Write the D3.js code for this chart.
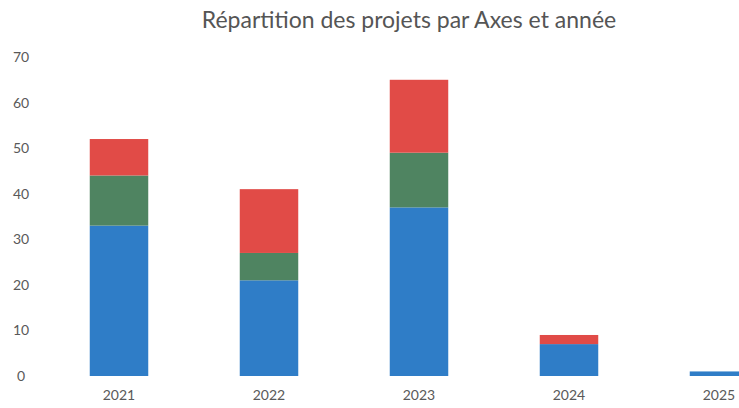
<!DOCTYPE html>
<html>
<head>
<meta charset="utf-8">
<script src="https://cdn.jsdelivr.net/npm/d3@7"></script>
<style>
  body { margin: 0; background: #fff; }
  svg { display: block; font-family: Lato, "Open Sans", sans-serif; }
</style>
</head>
<body>
<div id="chart"></div>
<script>
const years = ["2021", "2022", "2023", "2024", "2025"];
const axes = ["axe1", "axe2", "axe3"];
const axe1 = [33, 21, 37, 7, 1];   // blue
const axe2 = [11, 6, 12, 0, 0];    // green
const axe3 = [8, 14, 16, 2, 0];    // red
const yTicks = [0, 10, 20, 30, 40, 50, 60, 70];
const colors = ["#2f7dc7", "#4f8461", "#e14b47"];

const width = 739, height = 408;

const rows = years.map((y, i) => ({ year: y, axe1: axe1[i], axe2: axe2[i], axe3: axe3[i] }));
const stacked = d3.stack().keys(axes)(rows);

const x = d3.scaleBand()
    .domain(years)
    .range([44, 794])
    .paddingInner(0.61)
    .paddingOuter(0.305);

const y = d3.scaleLinear()
    .domain([0, 70])
    .range([376, 57]);

const svg = d3.select("#chart").append("svg")
    .attr("width", width)
    .attr("height", height);

// title
svg.append("text")
    .attr("x", 409)
    .attr("y", 28)
    .attr("text-anchor", "middle")
    .attr("font-size", 23)
    .attr("fill", "#555")
    .text("Répartition des projets par Axes et année");

// y tick labels (no axis line)
svg.append("g")
    .selectAll("text")
    .data(yTicks)
    .enter()
    .append("text")
    .attr("x", 21)
    .attr("y", d => y(d) + 5)
    .attr("text-anchor", "middle")
    .attr("font-size", 14)
    .attr("fill", "#595959")
    .text(d => d);

// bars
svg.append("g")
    .selectAll("g")
    .data(stacked)
    .enter()
    .append("g")
    .attr("fill", (d, i) => colors[i])
    .selectAll("rect")
    .data(d => d)
    .enter()
    .append("rect")
    .attr("x", d => x(d.data.year))
    .attr("y", d => y(d[1]))
    .attr("width", x.bandwidth())
    .attr("height", d => y(d[0]) - y(d[1]));

// x labels
svg.append("g")
    .selectAll("text")
    .data(years)
    .enter()
    .append("text")
    .attr("x", d => x(d) + x.bandwidth() / 2)
    .attr("y", 400)
    .attr("text-anchor", "middle")
    .attr("font-size", 14)
    .attr("fill", "#595959")
    .text(d => d);
</script>
</body>
</html>
